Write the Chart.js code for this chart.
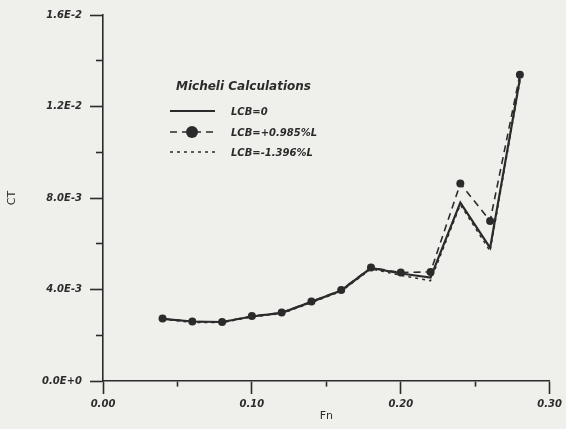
<!DOCTYPE html>
<html>
<head>
<meta charset="utf-8">
<script src="https://cdn.jsdelivr.net/npm/chart.js@4.4.1/dist/chart.umd.min.js"></script>
<style>
  html, body { margin: 0; padding: 0; background: #efefeb; }
  #wrap { width: 566px; height: 429px; position: relative; }
</style>
</head>
<body>
<div id="wrap"><canvas id="ct-chart"></canvas></div>
<script>
// Froude number and total resistance coefficient
const fn = [0.04, 0.06, 0.08, 0.10, 0.12, 0.14, 0.16, 0.18, 0.20, 0.22, 0.24, 0.26, 0.28];
const ctLcb0   = [2.72e-3, 2.60e-3, 2.58e-3, 2.82e-3, 2.98e-3, 3.46e-3, 3.96e-3, 4.94e-3, 4.70e-3, 4.52e-3, 7.80e-3, 5.82e-3, 13.2e-3];
const ctLcbFwd = [2.73e-3, 2.60e-3, 2.58e-3, 2.84e-3, 2.99e-3, 3.47e-3, 3.98e-3, 4.96e-3, 4.74e-3, 4.77e-3, 8.63e-3, 7.00e-3, 13.39e-3];
const ctLcbAft = [2.70e-3, 2.56e-3, 2.55e-3, 2.80e-3, 2.95e-3, 3.42e-3, 3.92e-3, 4.90e-3, 4.62e-3, 4.38e-3, 7.70e-3, 5.68e-3, 13.1e-3];
const seriesNames = ['LCB=0', 'LCB=+0.985%L', 'LCB=-1.396%L'];
const xTickLabels = ['0.00', '0.10', '0.20', '0.30'];
const yTickLabels = ['0.0E+0', '4.0E-3', '8.0E-3', '1.2E-2', '1.6E-2'];

const ink = '#2b2b2b';
const tickFont = { family: 'DejaVu Sans', size: 10, weight: 'bold', style: 'italic' };

function pts(ys) {
    return fn.map(function (x, i) { return { x: x, y: ys[i] }; });
}

// legend drawn inside the plot, like the original figure
const innerLegend = {
    id: 'innerLegend',
    afterDraw: function (chart) {
        const c = chart.ctx;
        c.save();
        c.fillStyle = ink;
        c.textBaseline = 'middle';
        c.font = 'italic bold 12px "DejaVu Sans"';
        c.fillText('Micheli Calculations', 176, 87);
        c.font = 'italic bold 10px "DejaVu Sans"';
        const rows = [111, 132, 152];
        chart.data.datasets.forEach(function (ds, i) {
            const y = rows[i];
            c.strokeStyle = ink;
            c.lineWidth = ds.borderWidth;
            c.setLineDash(ds.borderDash || []);
            c.beginPath();
            c.moveTo(170, y);
            c.lineTo(215, y);
            c.stroke();
            c.setLineDash([]);
            if (ds.pointRadius > 0) {
                c.beginPath();
                c.arc(192, y, 6, 0, Math.PI * 2);
                c.fill();
            }
            c.fillText(ds.label, 231, y + 1);
        });
        c.restore();
    }
};

new Chart(document.getElementById('ct-chart'), {
    type: 'line',
    data: {
        datasets: [{
            label: seriesNames[0],
            data: pts(ctLcb0),
            borderColor: ink,
            borderWidth: 2.2,
            pointRadius: 0,
            tension: 0
        }, {
            label: seriesNames[1],
            data: pts(ctLcbFwd),
            borderColor: ink,
            backgroundColor: ink,
            borderWidth: 1.6,
            borderDash: [7, 5],
            pointRadius: 4,
            pointBackgroundColor: ink,
            pointBorderWidth: 0,
            tension: 0
        }, {
            label: seriesNames[2],
            data: pts(ctLcbAft),
            borderColor: ink,
            borderWidth: 1.4,
            borderDash: [3, 4],
            pointRadius: 0,
            tension: 0
        }]
    },
    options: {
        responsive: true,
        maintainAspectRatio: false,
        animation: false,
        layout: { padding: { top: 15, right: 13, left: 0, bottom: 0 } },
        plugins: {
            legend: { display: false },
            tooltip: { enabled: false }
        },
        scales: {
            x: {
                type: 'linear',
                min: 0,
                max: 0.3,
                afterFit: function (s) { s.height = 48; },
                border: { color: ink, width: 1.6 },
                grid: {
                    drawOnChartArea: false,
                    tickLength: 13,
                    tickColor: ink,
                    tickWidth: 1.6,
                    tickBorderDash: function (ctx) { return ctx.index % 2 ? [5, 40] : []; }
                },
                ticks: {
                    stepSize: 0.05,
                    padding: 4,
                    color: ink,
                    font: tickFont,
                    maxRotation: 0,
                    autoSkip: false,
                    callback: function (v, i) { return i % 2 ? '' : xTickLabels[i / 2]; }
                },
                title: {
                    display: true,
                    text: 'Fn',
                    color: ink,
                    font: { family: 'DejaVu Sans', size: 11 },
                    padding: { top: 0, bottom: 6 }
                }
            },
            y: {
                min: 0,
                max: 0.016,
                afterFit: function (s) { s.width = 103; },
                border: { color: ink, width: 1.6 },
                grid: {
                    drawOnChartArea: false,
                    tickLength: 13,
                    tickColor: ink,
                    tickWidth: 1.6,
                    tickBorderDash: function (ctx) { return ctx.index % 2 ? [7, 6] : []; },
                    tickBorderDashOffset: function (ctx) { return ctx.index % 2 ? 7 : 0; }
                },
                ticks: {
                    stepSize: 0.002,
                    padding: 8,
                    color: ink,
                    font: tickFont,
                    autoSkip: false,
                    callback: function (v, i) { return i % 2 ? '' : yTickLabels[i / 2]; }
                },
                title: {
                    display: true,
                    text: 'CT',
                    color: ink,
                    font: { family: 'DejaVu Sans', size: 11 },
                    padding: { top: 6, bottom: 0 }
                }
            }
        }
    },
    plugins: [innerLegend]
});
</script>
</body>
</html>
